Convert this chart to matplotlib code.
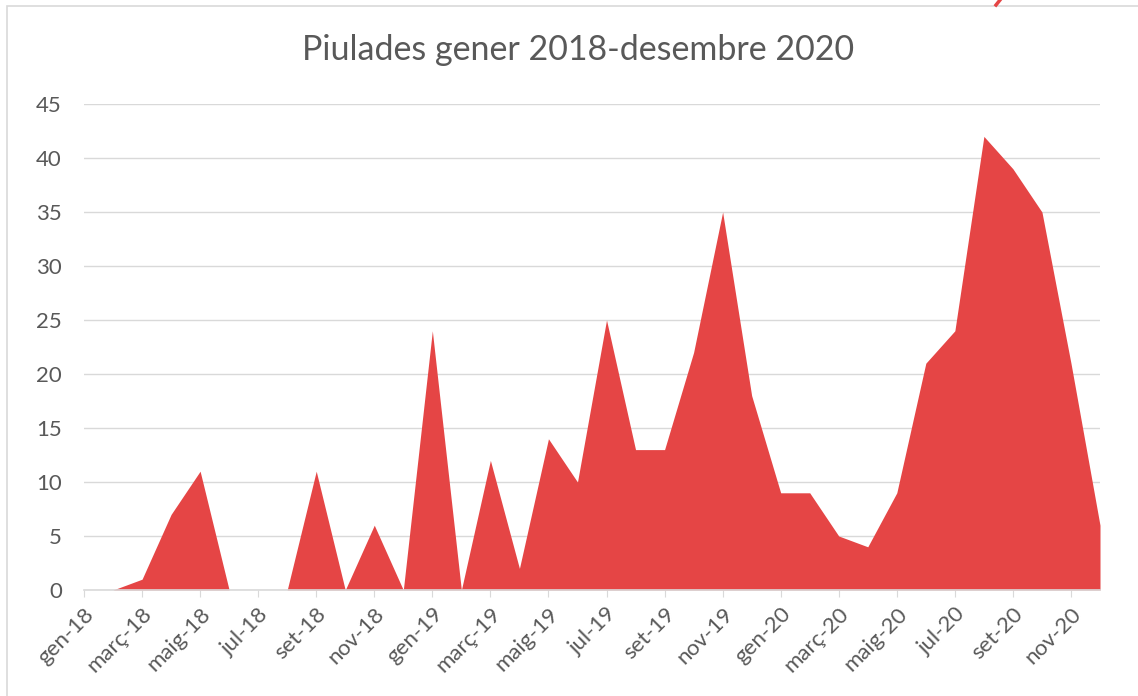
import matplotlib
matplotlib.use("Agg")
import matplotlib.pyplot as plt
from matplotlib.patches import Rectangle

# mesos gen-18 .. des-20
mesos = ["gen", "febr", "març", "abr", "maig", "juny", "jul", "ag", "set", "oct", "nov", "des"]
anys = ["18", "19", "20"]
etiquetes = [m + "-" + a for a in anys for m in mesos]

piulades = [
    0, 0, 1, 7, 11, 0, 0, 0, 11, 0, 6, 0,
    24, 0, 12, 2, 14, 10, 25, 13, 13, 22, 35, 18,
    9, 9, 5, 4, 9, 21, 24, 42, 39, 35, 21, 6,
]

color_area = "#E54545"
gris_text = "#595959"
gris_linia = "#D9D9D9"

plt.rcParams["font.family"] = ["Lato", "DejaVu Sans"]

fig = plt.figure(figsize=(11.38, 6.96), dpi=100)
ax = fig.add_axes([84 / 1138, 1 - 590 / 696, 1016 / 1138, 486 / 696])

x = list(range(len(piulades)))
ax.fill_between(x, piulades, 0, color=color_area, linewidth=0)

ax.set_xlim(0, len(piulades) - 1)
ax.set_ylim(0, 45)
ax.set_yticks(range(0, 46, 5))
ax.yaxis.grid(True, color=gris_linia, linewidth=1)
ax.set_axisbelow(True)

ax.set_xticks(x[::2])
ax.set_xticklabels(etiquetes[::2], rotation=45, ha="right", rotation_mode="anchor")

for s in ["top", "right", "left"]:
    ax.spines[s].set_visible(False)
ax.spines["bottom"].set_color(gris_linia)
ax.spines["bottom"].set_linewidth(1.2)

ax.tick_params(axis="y", length=0, pad=16, labelsize=16, labelcolor=gris_text)
ax.tick_params(axis="x", length=5, color=gris_linia, pad=5, labelsize=16, labelcolor=gris_text)

fig.text(578 / 1138, 1 - 50 / 696, "Piulades gener 2018-desembre 2020",
         ha="center", va="center", fontsize=24.5, color=gris_text)

# marc del gràfic
fig.patches.append(Rectangle((7 / 1138, -0.05), 1.1, 1 - 6 / 696 + 0.05,
                             transform=fig.transFigure, fill=False,
                             edgecolor=gris_linia, linewidth=1.2))
fig.lines.append(plt.Line2D([996 / 1138, 1000 / 1138], [1 - 5 / 696, 1.0],
                            transform=fig.transFigure, color=color_area, linewidth=2.5))

fig.savefig("out.png", dpi=100)
